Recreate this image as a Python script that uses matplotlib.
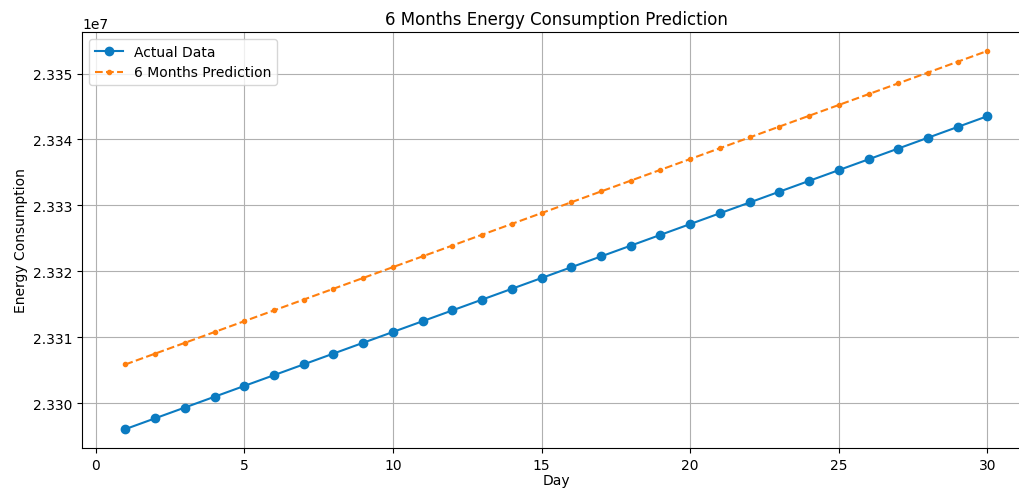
import matplotlib
matplotlib.use('Agg')
import matplotlib.pyplot as plt

days = list(range(1, 31))

actual = [23296060, 23297697, 23299334, 23300971, 23302608, 23304245,
          23305882, 23307519, 23309156, 23310793, 23312430, 23314067,
          23315704, 23317341, 23318978, 23320615, 23322252, 23323889,
          23325526, 23327163, 23328800, 23330437, 23332074, 23333711,
          23335348, 23336985, 23338622, 23340259, 23341896, 23343533]

prediction = [23305870, 23307510, 23309150, 23310790, 23312430, 23314070,
              23315710, 23317350, 23318990, 23320630, 23322270, 23323910,
              23325550, 23327190, 23328830, 23330470, 23332110, 23333750,
              23335390, 23337030, 23338670, 23340310, 23341950, 23343590,
              23345230, 23346870, 23348510, 23350150, 23351790, 23353430]

fig = plt.figure(figsize=(10.19, 4.89), dpi=100)
# the original picture is cropped on the right, so the axes run past the edge
ax = fig.add_axes([0.0808, 0.0818, 0.9305, 0.8507])

ax.plot(days, actual, marker='o', color='#0b7bc1', label='Actual Data')
ax.plot(days, prediction, linestyle='--', marker='.', color='#ff7f0e',
        label='6 Months Prediction')

ax.set_title('6 Months Energy Consumption Prediction')
ax.set_xlabel('Day', labelpad=1)
ax.set_ylabel('Energy Consumption')
ax.legend(loc='upper left')
ax.grid(True)
ax.spines['right'].set_visible(False)

fig.savefig('out.png', dpi=100)
